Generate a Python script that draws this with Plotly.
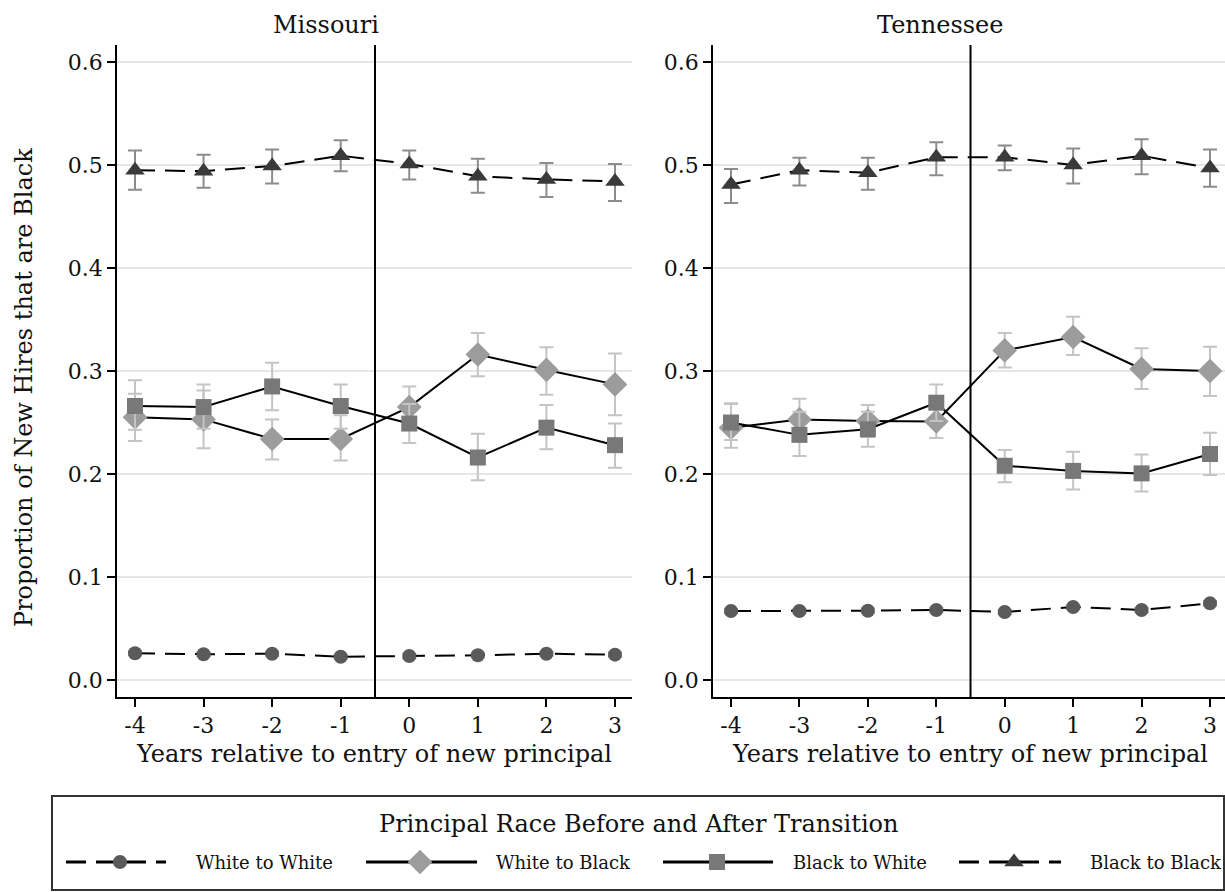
import numpy as np
import plotly.graph_objects as go

# ---------------- data ----------------
years = [-4, -3, -2, -1, 0, 1, 2, 3]
year_labels = ["-4", "-3", "-2", "-1", "0", "1", "2", "3"]
y_ticks = [0.0, 0.1, 0.2, 0.3, 0.4, 0.5, 0.6]
y_tick_labels = ["0.0", "0.1", "0.2", "0.3", "0.4", "0.5", "0.6"]
series_names = ["White to White", "White to Black", "Black to White", "Black to Black"]

# Missouri
mo_ww = [0.026, 0.025, 0.0255, 0.0226, 0.0233, 0.024, 0.0255, 0.0246]
mo_ww_lo = [0.024, 0.023, 0.0235, 0.0206, 0.0213, 0.022, 0.0235, 0.0226]
mo_ww_hi = [0.028, 0.027, 0.0275, 0.0246, 0.0253, 0.026, 0.0275, 0.0266]
mo_wb = [0.255, 0.253, 0.234, 0.234, 0.265, 0.316, 0.301, 0.287]
mo_wb_lo = [0.232, 0.225, 0.214, 0.213, 0.246, 0.295, 0.277, 0.257]
mo_wb_hi = [0.278, 0.281, 0.253, 0.257, 0.285, 0.337, 0.323, 0.317]
mo_bw = [0.266, 0.265, 0.285, 0.266, 0.249, 0.216, 0.245, 0.228]
mo_bw_lo = [0.243, 0.244, 0.262, 0.244, 0.230, 0.194, 0.224, 0.206]
mo_bw_hi = [0.291, 0.287, 0.308, 0.287, 0.268, 0.239, 0.267, 0.249]
mo_bb = [0.495, 0.494, 0.499, 0.509, 0.501, 0.489, 0.486, 0.484]
mo_bb_lo = [0.476, 0.478, 0.482, 0.494, 0.486, 0.473, 0.469, 0.465]
mo_bb_hi = [0.514, 0.510, 0.515, 0.524, 0.514, 0.506, 0.502, 0.501]

# Tennessee
tn_ww = [0.067, 0.067, 0.0673, 0.068, 0.066, 0.0709, 0.068, 0.0744]
tn_ww_lo = [0.065, 0.065, 0.0653, 0.066, 0.064, 0.0689, 0.066, 0.0724]
tn_ww_hi = [0.069, 0.069, 0.0693, 0.070, 0.068, 0.0729, 0.070, 0.0764]
tn_wb = [0.245, 0.253, 0.2515, 0.251, 0.320, 0.333, 0.302, 0.300]
tn_wb_lo = [0.2255, 0.233, 0.236, 0.235, 0.3035, 0.3155, 0.2825, 0.2757]
tn_wb_hi = [0.268, 0.273, 0.267, 0.266, 0.337, 0.3527, 0.322, 0.3236]
tn_bw = [0.250, 0.238, 0.2434, 0.2692, 0.208, 0.203, 0.2006, 0.2194]
tn_bw_lo = [0.233, 0.2175, 0.2265, 0.2515, 0.192, 0.185, 0.183, 0.199]
tn_bw_hi = [0.2686, 0.2605, 0.2605, 0.287, 0.2233, 0.2217, 0.219, 0.240]
tn_bb = [0.481, 0.495, 0.4925, 0.5075, 0.5075, 0.500, 0.509, 0.497]
tn_bb_lo = [0.463, 0.480, 0.476, 0.490, 0.495, 0.482, 0.491, 0.479]
tn_bb_hi = [0.496, 0.507, 0.507, 0.522, 0.519, 0.516, 0.525, 0.515]

# ---------------- styles ----------------
W, H = 1225, 892
FONT = "DejaVu Serif"
TXT = "#111111"
styles = {
    "White to White": dict(symbol="circle", size=14, color="#5a5a5a", dash="20px,10px", ecol="#9a9a9a"),
    "White to Black": dict(symbol="diamond", size=19, color="#9c9c9c", dash="solid", ecol="#c4c4c4"),
    "Black to White": dict(symbol="square", size=16, color="#787878", dash="solid", ecol="#c4c4c4"),
    "Black to Black": dict(symbol="triangle-up", size=17, color="#3a3a3a", dash="20px,10px", ecol="#8c8c8c"),
}

panels = [
    ("x", "y", [(mo_ww, mo_ww_lo, mo_ww_hi), (mo_wb, mo_wb_lo, mo_wb_hi),
                (mo_bw, mo_bw_lo, mo_bw_hi), (mo_bb, mo_bb_lo, mo_bb_hi)]),
    ("x2", "y2", [(tn_ww, tn_ww_lo, tn_ww_hi), (tn_wb, tn_wb_lo, tn_wb_hi),
                  (tn_bw, tn_bw_lo, tn_bw_hi), (tn_bb, tn_bb_lo, tn_bb_hi)]),
]

fig = go.Figure()
for xa, ya, data in panels:
    for name, (m, lo, hi) in zip(series_names, data):
        s = styles[name]
        m_ = np.array(m)
        fig.add_trace(go.Scatter(
            x=years, y=m, xaxis=xa, yaxis=ya, mode="lines+markers", showlegend=False,
            line=dict(color="black", width=2, dash=s["dash"]),
            marker=dict(symbol=s["symbol"], size=s["size"], color=s["color"], line=dict(width=0)),
            error_y=dict(type="data", symmetric=False, array=np.array(hi) - m_,
                         arrayminus=m_ - np.array(lo), color=s["ecol"], thickness=2, width=7),
        ))

# ---------------- legend (custom) ----------------
leg_y = 862
leg_items = [  # (line start, line end, marker x, label x)
    (66, 166, 120, 194),
    (366, 477, 420, 494),
    (663, 773, 717, 791),
    (959, 1061, 1014, 1088),
]
for name, (x0, x1, xm, xl) in zip(series_names, leg_items):
    s = styles[name]
    fig.add_trace(go.Scatter(x=[x0, x1], y=[leg_y, leg_y], xaxis="x3", yaxis="y3", mode="lines",
                             showlegend=False, hoverinfo="skip",
                             line=dict(color="black", width=3, dash=s["dash"])))
    fig.add_trace(go.Scatter(x=[xm], y=[leg_y], xaxis="x3", yaxis="y3", mode="markers",
                             showlegend=False, hoverinfo="skip",
                             marker=dict(symbol=s["symbol"], size=s["size"], color=s["color"])))
    fig.add_annotation(x=xl, y=leg_y, xref="x3", yref="y3", text=name, showarrow=False,
                       xanchor="left", yanchor="middle", font=dict(family=FONT, size=18, color=TXT))

fig.add_annotation(x=639, y=824, xref="x3", yref="y3", text="Principal Race Before and After Transition",
                   showarrow=False, xanchor="center", yanchor="middle",
                   font=dict(family=FONT, size=24, color=TXT))
fig.add_shape(type="rect", xref="x3", yref="y3", x0=52, x1=1224, y0=796, y1=890,
              line=dict(color="#333", width=2), fillcolor="rgba(0,0,0,0)", layer="below")

# ---------------- axes ----------------
def px(x):
    return x / W

def py(y):
    return 1 - y / H

common_x = dict(tickvals=years, ticktext=year_labels, ticks="outside", ticklen=8, tickwidth=1.5,
                tickcolor="black", showline=True, linecolor="black", linewidth=1.5, showgrid=False,
                zeroline=False, tickfont=dict(family=FONT, size=22, color=TXT), fixedrange=True)
common_y = dict(tickvals=y_ticks, ticktext=y_tick_labels, range=[-0.0165, 0.6165], ticks="outside",
                ticklen=8, tickwidth=1.5, tickcolor="black", showline=True, linecolor="black",
                linewidth=1.5, showgrid=True, gridcolor="#e6e6e6", gridwidth=1.5, zeroline=False,
                tickfont=dict(family=FONT, size=22, color=TXT), domain=[py(697), py(45)])

fig.update_layout(
    width=W, height=H, margin=dict(l=0, r=0, t=0, b=0),
    paper_bgcolor="white", plot_bgcolor="white", showlegend=False,
    xaxis=dict(domain=[px(117), px(632)], range=[-4.2625, 3.248], anchor="y", **common_x),
    yaxis=dict(anchor="x", **common_y),
    xaxis2=dict(domain=[px(713), 1.0], range=[-4.263, 3.219], anchor="y2", **common_x),
    yaxis2=dict(anchor="x2", **common_y),
    xaxis3=dict(domain=[0, 1], range=[0, W], visible=False, anchor="y3", fixedrange=True),
    yaxis3=dict(domain=[0, py(780)], range=[H, 780], visible=False, anchor="x3", fixedrange=True),
)

# vertical reference lines at -0.5
for xr, yr in [("x", "y domain"), ("x2", "y2 domain")]:
    fig.add_shape(type="line", xref=xr, yref=yr, x0=-0.5, x1=-0.5, y0=0, y1=1,
                  line=dict(color="black", width=2))

# titles
for text, xc in [("Missouri", 326), ("Tennessee", 940)]:
    fig.add_annotation(x=px(xc), y=py(25), xref="paper", yref="paper", text=text, showarrow=False,
                       xanchor="center", yanchor="middle", font=dict(family=FONT, size=24, color=TXT))
for xc in [374, 970]:
    fig.add_annotation(x=px(xc), y=py(754), xref="paper", yref="paper",
                       text="Years relative to entry of new principal", showarrow=False,
                       xanchor="center", yanchor="middle", font=dict(family=FONT, size=24, color=TXT))
fig.add_annotation(x=px(24), y=py(388), xref="paper", yref="paper",
                   text="Proportion of New Hires that are Black", showarrow=False, textangle=-90,
                   xanchor="center", yanchor="middle", font=dict(family=FONT, size=24, color=TXT))

fig.write_html("out.html")
